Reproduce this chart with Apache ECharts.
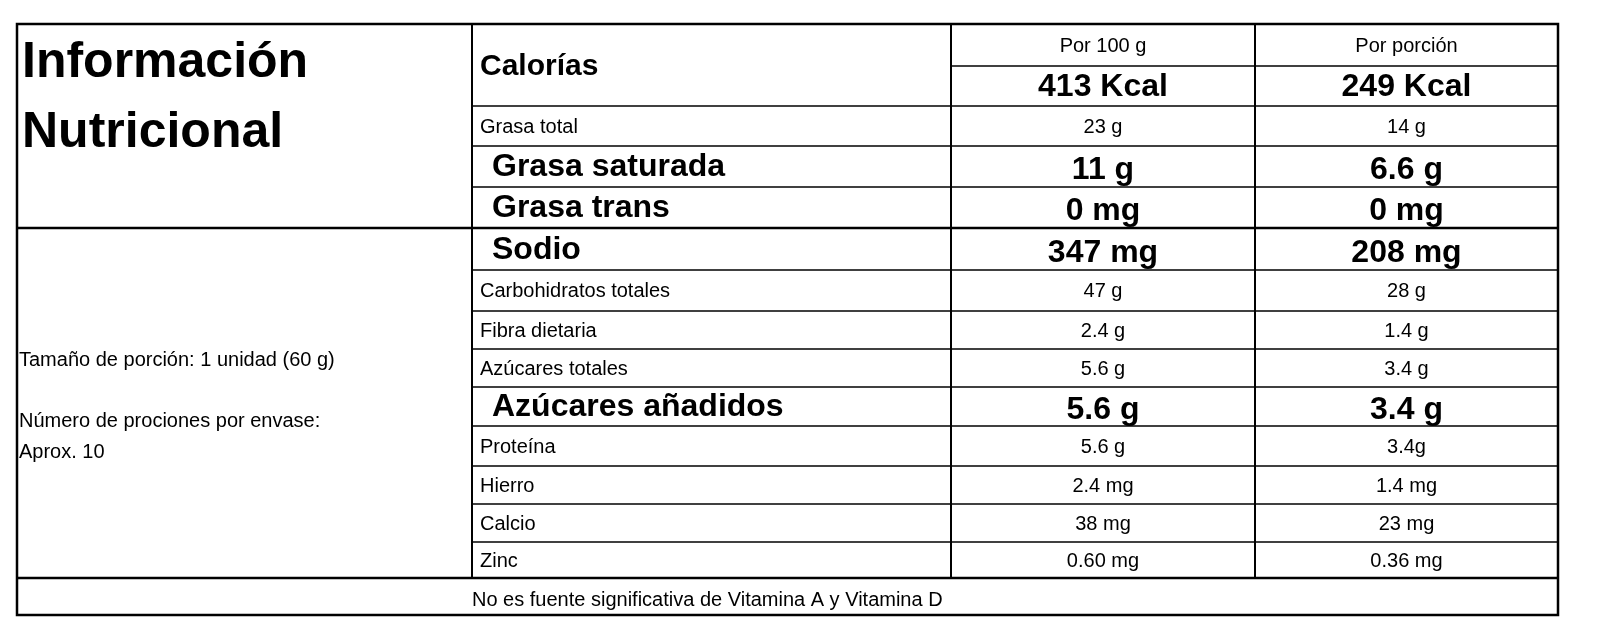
<!DOCTYPE html>
<html><head><meta charset="utf-8">
<script src="https://cdn.jsdelivr.net/npm/echarts@6/dist/echarts.min.js"></script>
<style>html,body{margin:0;background:#fff}#c{width:1600px;height:643px}</style>
</head><body><div id="c"></div>
<script>
// tabla nutricional
var nutrientes = ['Grasa total', 'Grasa saturada', 'Grasa trans', 'Sodio', 'Carbohidratos totales', 'Fibra dietaria', 'Azúcares totales', 'Azúcares añadidos', 'Proteína', 'Hierro', 'Calcio', 'Zinc'];
var por100g = ['23 g', '11 g', '0 mg', '347 mg', '47 g', '2.4 g', '5.6 g', '5.6 g', '5.6 g', '2.4 mg', '38 mg', '0.60 mg'];
var porPorcion = ['14 g', '6.6 g', '0 mg', '208 mg', '28 g', '1.4 g', '3.4 g', '3.4 g', '3.4g', '1.4 mg', '23 mg', '0.36 mg'];
var destacado = [false, true, true, true, false, false, false, true, false, false, false, false];
var cabecera = ['Por 100 g', 'Por porción'];
var calorias = ['413 Kcal', '249 Kcal'];
var notas = ['Tamaño de porción: 1 unidad (60 g)', 'Número de prociones por envase:', 'Aprox. 10'];
var pie = 'No es fuente significativa de Vitamina A y Vitamina D';

var cols = [17, 472, 951, 1255, 1558];
var rowsY = [106, 146, 187, 228, 270, 311, 349, 387, 426, 466, 504, 542, 578];
var tableTop = 24, tableBottom = 615;
var font = '"Liberation Sans", Arial, sans-serif';
var els = [];
function line(x1, y1, x2, y2, w) {
    els.push({type: 'line', shape: {x1: x1, y1: y1, x2: x2, y2: y2}, style: {stroke: '#000', lineWidth: w || 1.5}});
}
function txt(s, x, y, size, bold, align) {
    els.push({type: 'text', x: x, y: y, style: {text: s, fill: '#000', font: (bold ? 'bold ' : '') + size + 'px ' + font, textAlign: align || 'left', textVerticalAlign: 'middle'}});
}
// marco
els.push({type: 'rect', shape: {x: cols[0], y: tableTop, width: cols[4] - cols[0], height: tableBottom - tableTop}, style: {fill: 'none', stroke: '#000', lineWidth: 2.5}});
for (var c = 1; c < 4; c++) line(cols[c], tableTop, cols[c], rowsY[rowsY.length - 1], 2);
line(cols[2], 66, cols[4], 66);
rowsY.forEach(function (y, i) {
    var full = (i === 3 || i === rowsY.length - 1);
    line(full ? cols[0] : cols[1], y, cols[4], y, full ? 2.5 : 1.5);
});
txt('Información', 22, 63, 50, true);
txt('Nutricional', 22, 133, 50, true);
txt('Calorías', 480, 67, 30, true);
cabecera.forEach(function (s, i) {
    var cx = (cols[i + 2] + cols[i + 3]) / 2;
    txt(s, cx, 46, 20, false, 'center');
    txt(calorias[i], cx, 87, 32, true, 'center');
});
nutrientes.forEach(function (n, i) {
    var y = (rowsY[i] + rowsY[i + 1]) / 2 + 1;
    var b = destacado[i];
    txt(n, b ? 492 : 480, y, b ? 32 : 20, b);
    txt(por100g[i], (cols[2] + cols[3]) / 2, y + (b ? 3 : 0), b ? 32 : 20, b, 'center');
    txt(porPorcion[i], (cols[3] + cols[4]) / 2, y + (b ? 3 : 0), b ? 32 : 20, b, 'center');
});
txt(notas[0], 19, 360, 20);
txt(notas[1], 19, 421, 20);
txt(notas[2], 19, 452, 20);
txt(pie, 472, 600, 20);

var chart = echarts.init(document.getElementById('c'));
chart.setOption({animation: false, graphic: {elements: els}});
</script></body></html>
